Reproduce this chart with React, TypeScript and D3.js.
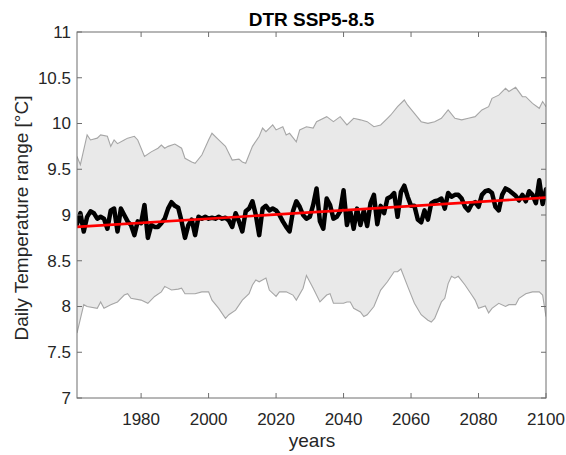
import React from "react";
import * as d3 from "d3";

const startYear = 1961;
const dtrMean = [
  8.90, 9.02, 8.82, 8.98, 9.04, 9.02, 8.96, 8.98, 8.96, 8.85,
  9.05, 9.07, 8.82, 9.07, 9.00, 8.93, 8.89, 8.78, 8.93, 8.91,
  9.11, 8.75, 8.89, 8.87, 8.87, 8.91, 8.96, 9.07, 9.14, 9.10,
  9.08, 8.93, 8.75, 8.89, 8.95, 8.78, 8.98, 8.96, 8.98, 8.96,
  8.97, 8.96, 8.98, 8.96, 8.97, 8.94, 8.87, 9.02, 8.93, 8.82,
  9.04, 9.07, 9.15, 9.00, 8.78, 9.07, 9.10, 9.05, 9.07, 9.05,
  9.00, 8.93, 8.87, 8.82, 9.04, 9.15, 9.09, 9.00, 8.96, 8.98,
  9.11, 9.29, 8.93, 8.85, 9.18, 9.11, 8.96, 8.98, 9.04, 9.27,
  8.89, 9.04, 8.85, 9.07, 8.89, 9.05, 8.88, 9.13, 9.22, 8.90,
  9.10, 9.02, 9.18, 9.20, 9.24, 8.98, 9.25, 9.32, 9.20, 9.10,
  9.10, 8.95, 8.92, 9.05, 8.95, 9.13, 9.15, 9.16, 9.18, 9.07,
  9.24, 9.20, 9.22, 9.22, 9.18, 9.09, 9.05, 9.12, 9.14, 9.09,
  9.22, 9.26, 9.27, 9.24, 9.09, 9.05, 9.22, 9.29, 9.27, 9.24,
  9.21, 9.16, 9.22, 9.15, 9.26, 9.22, 9.13, 9.38, 9.12, 9.28,
];
const years = dtrMean.map((_, i) => startYear + i);

const upperYears = [
  1961, 1962, 1964, 1965, 1967, 1968, 1970, 1971, 1972, 1973, 1975, 1976, 1978, 1979,
  1981, 1983, 1985, 1986, 1987, 1988, 1990, 1992, 1993, 1995, 1996, 1998, 2000, 2001,
  2003, 2005, 2007, 2009, 2010, 2011, 2013, 2015, 2016, 2017, 2019, 2020, 2022, 2023,
  2024, 2026, 2027, 2029, 2031, 2032, 2035, 2037, 2039, 2041, 2043, 2045, 2047, 2049,
  2051, 2053, 2054, 2056, 2058, 2059, 2061, 2063, 2065, 2067, 2069, 2071, 2073, 2075,
  2077, 2079, 2081, 2083, 2084, 2086, 2088, 2089, 2091, 2093, 2094, 2096, 2098, 2099, 2100,
];
const upperBand = [
  9.64, 9.55, 9.875, 9.82, 9.84, 9.875, 9.86, 9.75, 9.82, 9.78, 9.82, 9.84, 9.86, 9.82,
  9.64, 9.69, 9.73, 9.765, 9.73, 9.75, 9.776, 9.73, 9.62, 9.58, 9.565, 9.656, 9.82, 9.893,
  9.82, 9.75, 9.60, 9.61, 9.58, 9.565, 9.75, 9.86, 9.95, 9.91, 9.984, 9.93, 9.965, 9.875,
  9.893, 9.80, 9.93, 9.965, 9.95, 10.02, 10.075, 10.02, 10.075, 9.984, 10.057, 10.04, 10.02, 9.965,
  9.984, 10.057, 10.093, 10.184, 10.257, 10.20, 10.11, 10.02, 10.002, 10.02, 10.057, 10.148, 10.057, 10.04,
  10.057, 10.075, 10.148, 10.184, 10.275, 10.31, 10.385, 10.35, 10.395, 10.293, 10.293, 10.22, 10.166, 10.24, 10.184,
];

const lowerYears = [
  1961, 1963, 1964, 1967, 1968, 1969, 1971, 1973, 1975, 1976, 1977, 1980, 1982, 1984,
  1986, 1987, 1989, 1991, 1992, 1993, 1996, 1998, 2000, 2001, 2003, 2005, 2006, 2008,
  2010, 2012, 2013, 2014, 2015, 2017, 2018, 2020, 2021, 2023, 2025, 2026, 2028, 2029,
  2031, 2033, 2035, 2036, 2037, 2040, 2041, 2042, 2043, 2045, 2046, 2047, 2049, 2051,
  2053, 2055, 2056, 2057, 2059, 2061, 2063, 2065, 2066, 2067, 2069, 2070, 2071, 2072,
  2073, 2074, 2076, 2078, 2079, 2080, 2082, 2083, 2084, 2086, 2088, 2089, 2091, 2092,
  2094, 2096, 2098, 2099, 2100,
];
const lowerBand = [
  7.71, 8.02, 8.00, 7.98, 8.05, 7.98, 8.02, 8.05, 8.125, 8.14, 8.09, 8.07, 8.035, 8.11,
  8.16, 8.22, 8.18, 8.19, 8.20, 8.14, 8.14, 8.16, 8.16, 8.07, 7.98, 7.87, 7.91, 7.96,
  8.07, 8.14, 8.235, 8.29, 8.27, 8.31, 8.18, 8.11, 8.16, 8.16, 8.125, 8.07, 8.20, 8.34,
  8.20, 8.05, 8.125, 8.14, 8.035, 8.035, 8.05, 8.05, 7.98, 7.94, 7.89, 7.91, 8.00, 8.18,
  8.27, 8.38, 8.38, 8.41, 8.22, 8.035, 7.91, 7.85, 7.83, 7.87, 8.05, 8.09, 8.25, 8.33,
  8.31, 8.33, 8.235, 8.125, 8.07, 7.98, 8.005, 7.93, 7.98, 8.035, 8.00, 8.02, 8.02, 8.09,
  8.14, 8.16, 8.16, 8.125, 7.89,
];

const trendYears = [1961, 2100];
const trendValues = [8.87, 9.19];

const xTicks = [1980, 2000, 2020, 2040, 2060, 2080, 2100];
const yTicks = [7, 7.5, 8, 8.5, 9, 9.5, 10, 10.5, 11];

const titleText = "DTR SSP5-8.5";
const xLabelText = "years";
const yLabelText = "Daily Temperature range [°C]";

export default function App() {
  const W = 566;
  const H = 455;
  const left = 77;
  const right = 546;
  const top = 32;
  const bottom = 398;

  const x = d3.scaleLinear().domain([1961, 2100]).range([left, right]);
  const y = d3.scaleLinear().domain([7, 11]).range([bottom, top]);

  const upperPts: [number, number][] = upperYears.map((yr, i) => [x(yr), y(upperBand[i])]);
  const lowerPts: [number, number][] = lowerYears.map((yr, i) => [x(yr), y(lowerBand[i])]);
  const lineGen = d3.line<[number, number]>();
  const bandPath = lineGen([...upperPts, ...lowerPts.slice().reverse()]) + "Z";
  const upperPath = lineGen(upperPts) || "";
  const lowerPath = lineGen(lowerPts) || "";
  const meanPath =
    d3
      .line<number>()
      .x((_, i) => x(years[i]))
      .y((d) => y(d))(dtrMean) || "";
  const trendPath =
    d3
      .line<number>()
      .x((_, i) => x(trendYears[i]))
      .y((d) => y(d))(trendValues) || "";

  const axisColor = "#6e6e6e";
  const textColor = "#262626";
  const font = "'Liberation Sans', Arial, sans-serif";
  const tickLen = 5;

  return (
    <svg
      width={W}
      height={H}
      style={{ position: "absolute", left: 0, top: 0, background: "#fff" }}
      fontFamily={font}
    >
      <defs>
        <clipPath id="plotClip">
          <rect x={left} y={top} width={right - left} height={bottom - top} />
        </clipPath>
      </defs>
      <rect x={0} y={0} width={W} height={H} fill="#fff" />
      <g clipPath="url(#plotClip)">
        <path d={bandPath} fill="#e9e9e9" stroke="none" />
        <path d={upperPath} fill="none" stroke="#a6a6a6" strokeWidth={1.1} />
        <path d={lowerPath} fill="none" stroke="#a6a6a6" strokeWidth={1.1} />
        <path
          d={meanPath}
          fill="none"
          stroke="#000"
          strokeWidth={4.5}
          strokeLinejoin="round"
          strokeLinecap="round"
        />
        <path d={trendPath} fill="none" stroke="#ff0000" strokeWidth={2.6} />
      </g>
      {/* box */}
      <rect
        x={left}
        y={top}
        width={right - left}
        height={bottom - top}
        fill="none"
        stroke={axisColor}
        strokeWidth={1}
      />
      {/* x ticks */}
      {xTicks.map((t) => (
        <g key={"xt" + t}>
          <line x1={x(t)} x2={x(t)} y1={bottom} y2={bottom - tickLen} stroke={axisColor} />
          <line x1={x(t)} x2={x(t)} y1={top} y2={top + tickLen} stroke={axisColor} />
          <text x={x(t)} y={425} textAnchor="middle" fontSize={17} fill={textColor}>
            {t}
          </text>
        </g>
      ))}
      {/* y ticks */}
      {yTicks.map((t) => (
        <g key={"yt" + t}>
          <line x1={left} x2={left + tickLen} y1={y(t)} y2={y(t)} stroke={axisColor} />
          <line x1={right} x2={right - tickLen} y1={y(t)} y2={y(t)} stroke={axisColor} />
          <text
            x={71}
            y={y(t)}
            dy="0.35em"
            textAnchor="end"
            fontSize={17}
            fill={textColor}
          >
            {t}
          </text>
        </g>
      ))}
      <text
        x={(left + right) / 2}
        y={26}
        textAnchor="middle"
        fontSize={19}
        fontWeight="bold"
        fill="#000"
      >
        {titleText}
      </text>
      <text x={312} y={447} textAnchor="middle" fontSize={19} fill={textColor}>
        {xLabelText}
      </text>
      <text
        transform={`translate(28, 218) rotate(-90)`}
        textAnchor="middle"
        fontSize={19}
        fill={textColor}
      >
        {yLabelText}
      </text>
    </svg>
  );
}
